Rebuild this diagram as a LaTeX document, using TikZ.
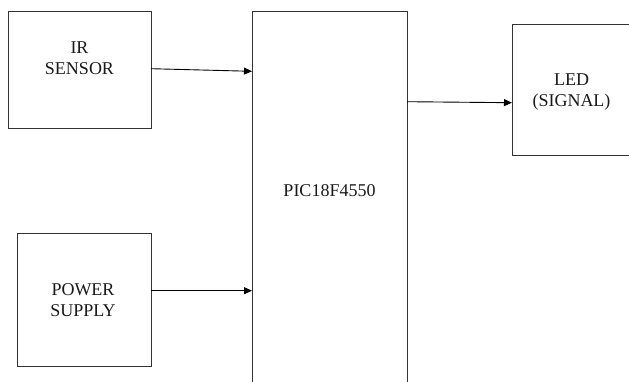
\documentclass[tikz,border=0pt]{standalone}
\usepackage{fontspec}
\setmainfont{Liberation Serif}
\usetikzlibrary{arrows.meta}
\begin{document}
\begin{tikzpicture}[x=1pt,y=-1pt,
  box/.style={draw=black!80,line width=1pt,inner sep=0pt,outer sep=0pt},
  txt/.style={font=\fontsize{18}{21}\selectfont,align=center,inner sep=0pt,text=black!90},
  arr/.style={draw=black,line width=0.9pt,-{Triangle[length=8pt,width=7pt]}}]
\useasboundingbox (0,0) rectangle (629,381);
\clip (0,0) rectangle (629,381);
\node[box,minimum width=143pt,minimum height=117pt] (ir) at (79.5,69.5) {};
\node[box,minimum width=155pt,minimum height=389pt] (pic) at (329.5,205.5) {};
\node[box,minimum width=133pt,minimum height=130.5pt] (led) at (578.5,89.75) {};
\node[box,minimum width=134pt,minimum height=133pt] (pwr) at (84,299.5) {};
\node[txt] (irt) at (79.5,58) {IR\\SENSOR};
\node[txt] (pict) at (329.5,191) {PIC18F4550};
\node[txt] (ledt) at (571.5,92.5) {LED\\(SIGNAL)};
\node[txt] (pwrt) at (83,300) {POWER\\SUPPLY};
\coordinate (a1) at (ir.east |- 0,68.7);
\coordinate (a2) at (pic.west |- 0,71.3);
\coordinate (b1) at (pwr.east |- 0,290.7);
\coordinate (b2) at (pic.west |- 0,290.7);
\coordinate (c1) at (pic.east |- 0,101.7);
\coordinate (c2) at (led.west |- 0,102.7);
\draw[arr] (a1) -- (a2);
\draw[arr] (b1) -- (b2);
\draw[arr] (c1) -- (c2);
\end{tikzpicture}
\end{document}
